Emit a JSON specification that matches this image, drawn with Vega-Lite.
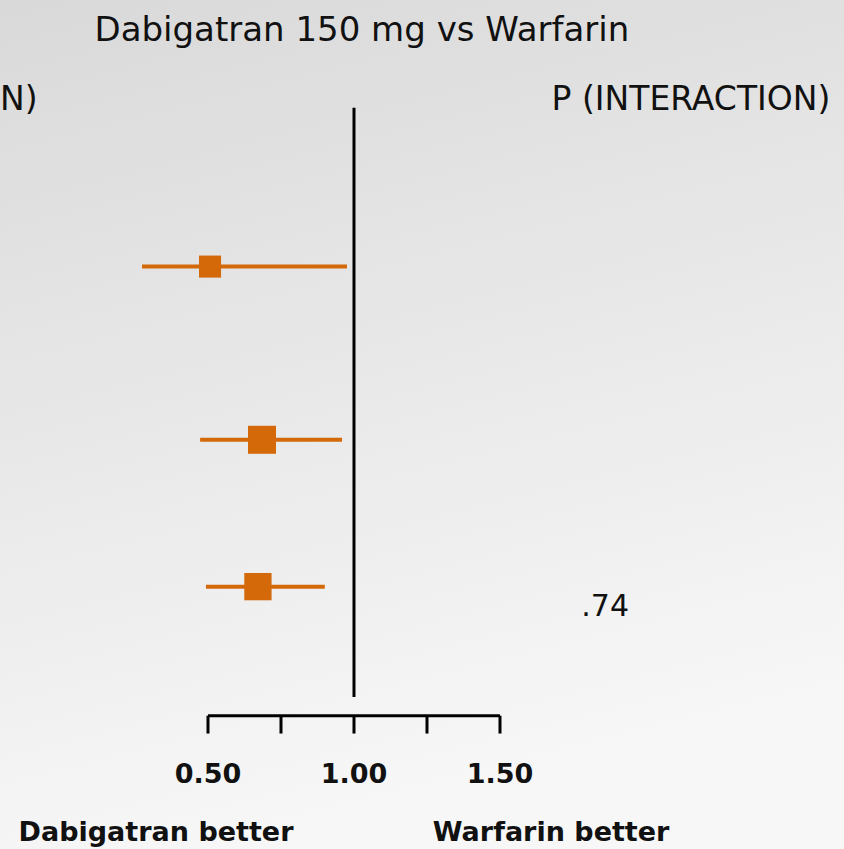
{
  "$schema": "https://vega.github.io/schema/vega-lite/v6.json",
  "width": 844,
  "height": 849,
  "padding": 0,
  "autosize": {"type": "fit", "contains": "padding"},
  "background": "#e8e8e8",
  "config": {
    "view": {
      "stroke": null,
      "fill": {
        "gradient": "linear",
        "x1": 0, "y1": 0, "x2": 0.25, "y2": 1,
        "stops": [
          {"offset": 0, "color": "#d9d9d9"},
          {"offset": 1, "color": "#f7f7f7"}
        ]
      }
    },
    "axis": {"disable": true},
    "legend": {"disable": true},
    "text": {"font": "DejaVu Sans", "color": "#111111"}
  },
  "datasets": {
    "subgroups": [
      {"row": 1, "pos": 31.4, "hr": 0.507, "lo": 0.274, "hi": 0.976, "weight": 0.62},
      {"row": 2, "pos": 51.8, "hr": 0.685, "lo": 0.473, "hi": 0.959, "weight": 1.0},
      {"row": 3, "pos": 69.1, "hr": 0.671, "lo": 0.493, "hi": 0.900, "weight": 0.95}
    ],
    "ticks": [
      {"value": 0.5, "label": "0.50"},
      {"value": 0.75, "label": ""},
      {"value": 1.0, "label": "1.00"},
      {"value": 1.25, "label": ""},
      {"value": 1.5, "label": "1.50"}
    ],
    "labels": [
      {"text": "Dabigatran 150 mg vs Warfarin", "x": 1.027, "pos": 3.6, "kind": "title"},
      {"text": "N)", "x": -0.212, "pos": 11.8, "kind": "headerLeft"},
      {"text": "P (INTERACTION)", "x": 2.154, "pos": 11.8, "kind": "header"},
      {"text": ".74", "x": 1.86, "pos": 71.5, "kind": "p"},
      {"text": "Dabigatran better", "x": 0.322, "pos": 98.1, "kind": "favour"},
      {"text": "Warfarin better", "x": 1.675, "pos": 98.1, "kind": "favour"}
    ]
  },
  "layer": [
    {
      "description": "line of no effect at HR = 1",
      "data": {"values": [{"x": 1.0, "top": 12.7, "bottom": 82.1}]},
      "mark": {"type": "rule", "color": "#000000", "strokeWidth": 3},
      "encoding": {
        "x": {"field": "x", "type": "quantitative", "scale": {"domain": [-0.2123, 2.6781], "nice": false, "zero": false}},
        "y": {"field": "top", "type": "quantitative", "scale": {"domain": [0, 100], "reverse": true, "nice": false, "zero": false}},
        "y2": {"field": "bottom"}
      }
    },
    {
      "description": "hazard-ratio axis line",
      "data": {"values": [{"from": 0.5, "to": 1.5, "pos": 84.3}]},
      "mark": {"type": "rule", "color": "#000000", "strokeWidth": 3},
      "encoding": {
        "x": {"field": "from", "type": "quantitative"},
        "x2": {"field": "to"},
        "y": {"field": "pos", "type": "quantitative"}
      }
    },
    {
      "description": "axis tick marks",
      "data": {"name": "ticks"},
      "transform": [{"calculate": "84.3", "as": "top"}, {"calculate": "86.4", "as": "bottom"}],
      "mark": {"type": "rule", "color": "#000000", "strokeWidth": 3},
      "encoding": {
        "x": {"field": "value", "type": "quantitative"},
        "y": {"field": "top", "type": "quantitative"},
        "y2": {"field": "bottom"}
      }
    },
    {
      "description": "axis tick labels",
      "data": {"name": "ticks"},
      "transform": [{"calculate": "91.3", "as": "pos"}],
      "mark": {"type": "text", "fontSize": 27, "fontWeight": "bold", "align": "center", "baseline": "middle"},
      "encoding": {
        "x": {"field": "value", "type": "quantitative"},
        "y": {"field": "pos", "type": "quantitative"},
        "text": {"field": "label"}
      }
    },
    {
      "description": "95% confidence intervals",
      "data": {"name": "subgroups"},
      "mark": {"type": "rule", "color": "#d4690a", "strokeWidth": 4},
      "encoding": {
        "x": {"field": "lo", "type": "quantitative"},
        "x2": {"field": "hi"},
        "y": {"field": "pos", "type": "quantitative"}
      }
    },
    {
      "description": "point estimates, sized by weight",
      "data": {"name": "subgroups"},
      "mark": {"type": "square", "color": "#d4690a", "opacity": 1, "filled": true},
      "encoding": {
        "x": {"field": "hr", "type": "quantitative"},
        "y": {"field": "pos", "type": "quantitative"},
        "size": {"field": "weight", "type": "quantitative", "scale": {"domain": [0, 1], "range": [0, 784]}, "legend": null}
      }
    },
    {
      "data": {"name": "labels"},
      "transform": [{"filter": "datum.kind === 'title'"}],
      "mark": {"type": "text", "fontSize": 34, "align": "center", "baseline": "middle"},
      "encoding": {
        "x": {"field": "x", "type": "quantitative"},
        "y": {"field": "pos", "type": "quantitative"},
        "text": {"field": "text"}
      }
    },
    {
      "data": {"name": "labels"},
      "transform": [{"filter": "datum.kind === 'headerLeft'"}],
      "mark": {"type": "text", "fontSize": 33, "align": "left", "baseline": "middle"},
      "encoding": {
        "x": {"field": "x", "type": "quantitative"},
        "y": {"field": "pos", "type": "quantitative"},
        "text": {"field": "text"}
      }
    },
    {
      "data": {"name": "labels"},
      "transform": [{"filter": "datum.kind === 'header'"}],
      "mark": {"type": "text", "fontSize": 33, "align": "center", "baseline": "middle"},
      "encoding": {
        "x": {"field": "x", "type": "quantitative"},
        "y": {"field": "pos", "type": "quantitative"},
        "text": {"field": "text"}
      }
    },
    {
      "data": {"name": "labels"},
      "transform": [{"filter": "datum.kind === 'p'"}],
      "mark": {"type": "text", "fontSize": 30, "align": "center", "baseline": "middle"},
      "encoding": {
        "x": {"field": "x", "type": "quantitative"},
        "y": {"field": "pos", "type": "quantitative"},
        "text": {"field": "text"}
      }
    },
    {
      "data": {"name": "labels"},
      "transform": [{"filter": "datum.kind === 'favour'"}],
      "mark": {"type": "text", "fontSize": 27, "fontWeight": "bold", "align": "center", "baseline": "middle"},
      "encoding": {
        "x": {"field": "x", "type": "quantitative"},
        "y": {"field": "pos", "type": "quantitative"},
        "text": {"field": "text"}
      }
    }
  ]
}
